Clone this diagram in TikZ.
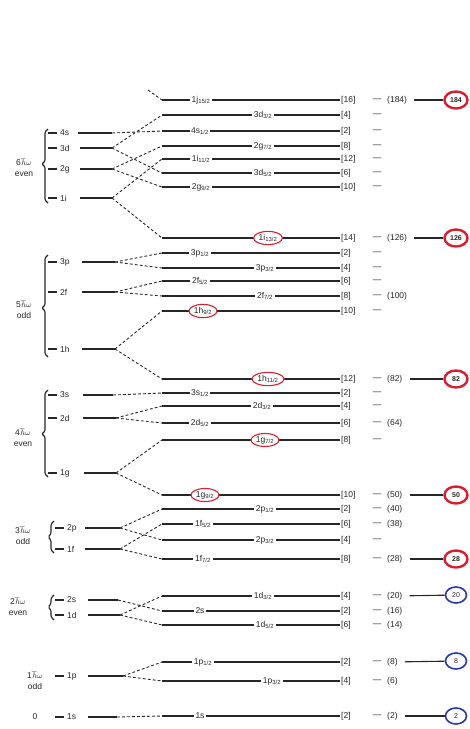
\documentclass[tikz,border=0pt]{standalone}
\usepackage{fontspec}
\setmainfont{Liberation Sans}
\usetikzlibrary{shapes.geometric}
\definecolor{ink}{HTML}{262626}
\definecolor{mred}{HTML}{D42030}
\definecolor{mblue}{HTML}{2838A8}
\newcommand{\RL}[6]{%
  \coordinate (#1s) at (162,#2);
  \node[cnt] (#1c) at (340,#2) {[#3]};
  \node[dsh] (#1d) at (377,#2) {---};
  \draw[lvl] (#1s) -- (#1c.west);
  \node[#5] (#1l) at (#4,#2) {#6};
}
\newcommand{\TOT}[3]{\node[tot] (#1t) at (386,#2) {(#3)};}
\newcommand{\LL}[6]{%
  \draw[lvl] (#4,#2) -- ++(9,0);
  \node[llab] (#1) at ({#4+11},#2) {#3};
  \coordinate (#1a) at (#5,#2);
  \coordinate (#1p) at (#6,#2);
  \draw[lvl] (#1a) -- (#1p);
}
\begin{document}
\begin{tikzpicture}[x=1pt,y=-1pt,
  every node/.style={font=\fontsize{8.5}{11}\selectfont, text=ink},
  lvl/.style={line width=1.1pt, draw=ink},
  fan/.style={line width=0.9pt, draw=ink, dash pattern=on 2.8pt off 2.2pt},
  cnt/.style={anchor=west, inner sep=1pt},
  dsh/.style={inner sep=0pt},
  tot/.style={anchor=west, inner sep=1pt},
  labst/.style={fill=white, inner sep=1.6pt},
  circ/.style={fill=white, inner sep=0.8pt, ellipse, draw=mred, line width=1.1pt},
  llab/.style={anchor=west, inner sep=1pt},
  grp/.style={align=center, inner sep=0pt},
  magr/.style={ellipse, draw=mred, line width=2.4pt, fill=white, minimum width=23pt, minimum height=17pt, inner sep=0pt, font=\fontsize{7}{8}\selectfont\bfseries},
  magb/.style={ellipse, draw=mblue, line width=1.6pt, fill=white, minimum width=21pt, minimum height=16pt, inner sep=0pt, font=\fontsize{7}{8}\selectfont},
  link/.style={lvl, shorten <=6pt}]
\fill[white] (0,0) rectangle (470,729);
\useasboundingbox (0,0) rectangle (470,729);

% ================= 6 hbar omega, even =================
\draw[lvl, rounded corners=1pt] (48,129) -- (45,132) -- (45,161) -- (42,164) -- (45,167) -- (45,200) -- (48,203);
\node[grp] (g6) at (24,168) {6$\hbar\omega$\\even};
\LL{s4}{133}{4s}{48}{78}{112}
\LL{d3}{148}{3d}{48}{80}{112}
\LL{g2}{169}{2g}{48}{80}{112}
\LL{i1}{198}{1i}{48}{80}{112}

\coordinate (jtop) at (148,90);
\RL{jA}{100}{16}{201}{labst}{1j\textsubscript{15/2}}
\RL{dB}{115}{4}{263}{labst}{3d\textsubscript{3/2}}
\RL{sC}{131}{2}{200}{labst}{4s\textsubscript{1/2}}
\RL{gD}{146}{8}{263}{labst}{2g\textsubscript{7/2}}
\RL{iE}{159}{12}{201}{labst}{1i\textsubscript{11/2}}
\RL{dF}{173}{6}{263}{labst}{3d\textsubscript{5/2}}
\RL{gG}{187}{10}{201}{labst}{2g\textsubscript{9/2}}
\RL{iH}{238}{14}{268}{circ}{1i\textsubscript{13/2}}
\TOT{jA}{100}{184}
\TOT{iH}{238}{126}

\draw[fan] (jtop) -- (jAs);
\draw[fan] (s4p) -- (sCs);
\draw[fan] (d3p) -- (dBs);
\draw[fan] (d3p) -- (dFs);
\draw[fan] (g2p) -- (gDs);
\draw[fan] (g2p) -- (gGs);
\draw[fan] (i1p) -- (iEs);
\draw[fan] (i1p) -- (iHs);

% ================= 5 hbar omega, odd =================
\draw[lvl, rounded corners=1pt] (48,255) -- (45,258) -- (45,305) -- (42,308) -- (45,311) -- (45,354) -- (48,357);
\node[grp] (g5) at (24,310) {5$\hbar\omega$\\odd};
\LL{p3}{262}{3p}{48}{82}{115}
\LL{f2}{292}{2f}{48}{82}{115}
\LL{h1}{349}{1h}{48}{82}{115}

\RL{pA}{253}{2}{200}{labst}{3p\textsubscript{1/2}}
\RL{pB}{268}{4}{265}{labst}{3p\textsubscript{3/2}}
\RL{fC}{281}{6}{200}{labst}{2f\textsubscript{5/2}}
\RL{fD}{296}{8}{265}{labst}{2f\textsubscript{7/2}}
\RL{hE}{311}{10}{203}{circ}{1h\textsubscript{9/2}}
\TOT{fD}{296}{100}

\draw[fan] (p3p) -- (pAs);
\draw[fan] (p3p) -- (pBs);
\draw[fan] (f2p) -- (fCs);
\draw[fan] (f2p) -- (fDs);
\draw[fan] (h1p) -- (hEs);

% ================= 4 hbar omega, even =================
\draw[lvl, rounded corners=1pt] (48,390) -- (45,393) -- (45,431) -- (42,434) -- (45,437) -- (45,474) -- (48,477);
\node[grp] (g4) at (23,438) {4$\hbar\omega$\\even};
\LL{s3}{395}{3s}{48}{83}{113}
\LL{d2}{418}{2d}{48}{83}{116}
\LL{g1}{473}{1g}{48}{84}{116}

\RL{hF}{379}{12}{268}{circ}{1h\textsubscript{11/2}}
\RL{sA}{393}{2}{200}{labst}{3s\textsubscript{1/2}}
\RL{dB2}{406}{4}{262}{labst}{2d\textsubscript{3/2}}
\RL{dC}{423}{6}{200}{labst}{2d\textsubscript{5/2}}
\RL{gD2}{440}{8}{265}{circ}{1g\textsubscript{7/2}}
\RL{gE}{495}{10}{205}{circ}{1g\textsubscript{9/2}}
\TOT{hF}{379}{82}
\TOT{dC}{423}{64}
\TOT{gE}{495}{50}

\draw[fan] (h1p) -- (hFs);
\draw[fan] (s3p) -- (sAs);
\draw[fan] (d2p) -- (dB2s);
\draw[fan] (d2p) -- (dCs);
\draw[fan] (g1p) -- (gD2s);
\draw[fan] (g1p) -- (gEs);

% ================= 3 hbar omega, odd =================
\draw[lvl, rounded corners=1.5pt] (54,521) -- (51,524) -- (51,534) -- (48,537) -- (51,540) -- (51,550) -- (54,553);
\node[grp] (g3) at (23,536) {3$\hbar\omega$\\odd};
\LL{p2}{528}{2p}{55}{85}{120}
\LL{f1}{549}{1f}{55}{85}{120}

\RL{pC}{509}{2}{265}{labst}{2p\textsubscript{1/2}}
\RL{fE}{524}{6}{203}{labst}{1f\textsubscript{5/2}}
\RL{pF}{540}{4}{265}{labst}{2p\textsubscript{3/2}}
\RL{fG}{559}{8}{203}{labst}{1f\textsubscript{7/2}}
\TOT{pC}{509}{40}
\TOT{fE}{524}{38}
\TOT{fG}{559}{28}

\draw[fan] (p2p) -- (pCs);
\draw[fan] (p2p) -- (pFs);
\draw[fan] (f1p) -- (fEs);
\draw[fan] (f1p) -- (fGs);

% ================= 2 hbar omega, even =================
\draw[lvl, rounded corners=1.5pt] (54,595) -- (51,598) -- (51,604) -- (48,607) -- (51,610) -- (51,617) -- (54,620);
\node[grp] (g2) at (18,607) {2$\hbar\omega$\\even};
\LL{s2}{600}{2s}{55}{88}{118}
\LL{d1}{615}{1d}{55}{88}{120}

\RL{dG}{596}{4}{263}{labst}{1d\textsubscript{3/2}}
\RL{sH}{611}{2}{200}{labst}{2s}
\RL{dI}{625}{6}{265}{labst}{1d\textsubscript{5/2}}
\TOT{dG}{596}{20}
\TOT{sH}{611}{16}
\TOT{dI}{625}{14}

\draw[fan] (s2p) -- (sHs);
\draw[fan] (d1p) -- (dGs);
\draw[fan] (d1p) -- (dIs);

% ================= 1 hbar omega, odd =================
\node[grp] (g1w) at (35,681) {1$\hbar\omega$\\odd};
\LL{p1}{676}{1p}{55}{88}{123}
\RL{pJ}{662}{2}{203}{labst}{1p\textsubscript{1/2}}
\RL{pK}{681}{4}{272}{labst}{1p\textsubscript{3/2}}
\TOT{pJ}{662}{8}
\TOT{pK}{681}{6}
\draw[fan] (p1p) -- (pJs);
\draw[fan] (p1p) -- (pKs);

% ================= 0 =================
\node[grp] (g0) at (35,717) {0};
\LL{s1}{717}{1s}{55}{88}{117}
\RL{sL}{716}{2}{200}{labst}{1s}
\TOT{sL}{716}{2}
\draw[fan] (s1p) -- (sLs);

% ================= magic numbers =================
\node[magr] (m184) at (456,100) {184};
\node[magr] (m126) at (456,238) {126};
\node[magr] (m82) at (456,379) {82};
\node[magr] (m50) at (456,495) {50};
\node[magr] (m28) at (456,559) {28};
\node[magb] (m20) at (456,595) {20};
\node[magb] (m8) at (456,661) {8};
\node[magb] (m2) at (456,716) {2};
\draw[link] (jAt) -- (m184);
\draw[link] (iHt) -- (m126);
\draw[link] (hFt) -- (m82);
\draw[link] (gEt) -- (m50);
\draw[link] (fGt) -- (m28);
\draw[link] (dGt) -- (m20);
\draw[link] (pJt) -- (m8);
\draw[link] (sLt) -- (m2);
\end{tikzpicture}
\end{document}
